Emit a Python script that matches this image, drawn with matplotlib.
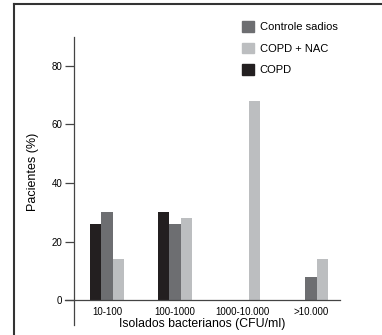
import numpy as np
import matplotlib
matplotlib.use('Agg')
import matplotlib.pyplot as plt
from matplotlib.lines import Line2D
from matplotlib.patches import Patch

plt.rcParams['font.family'] = ['Liberation Sans', 'DejaVu Sans']

categories = ['10-100', '100-1000', '1000-10.000', '>10.000']
copd = [26, 30, 0, 0]
controle = [30, 26, 0, 8]
copd_nac = [14, 28, 68, 14]
yticks = [0, 20, 40, 60, 80]

c_copd = '#231f20'
c_ctrl = '#6d6e71'
c_nac = '#bcbec0'

fig = plt.figure(figsize=(3.82, 3.35), dpi=100)
ax = fig.add_axes([65/382, 10/335, 275/382, 288/335])

x = np.arange(len(categories))
w = 0.17
ax.bar(x - w, copd, w, color=c_copd)
ax.bar(x, controle, w, color=c_ctrl)
ax.bar(x + w, copd_nac, w, color=c_nac)

ax.set_xlim(-0.62, 3.43)
ax.set_ylim(-8.5, 89.8)

for s in ['top', 'right']:
    ax.spines[s].set_visible(False)
ax.spines['left'].set_position(('data', -0.485))
ax.spines['bottom'].set_position(('data', 0))
for s in ['left', 'bottom']:
    ax.spines[s].set_color('#444444')
    ax.spines[s].set_linewidth(0.9)

ax.set_yticks(yticks)
ax.tick_params(axis='y', length=6.5, width=0.9, color='#444444', labelsize=7, pad=2)
ax.set_xticks(x)
ax.set_xticklabels(categories)
ax.tick_params(axis='x', length=0, labelsize=7, pad=5)

ax.set_xlabel('Isolados bacterianos (CFU/ml)', fontsize=8.8, labelpad=1)
ax.set_ylabel('Pacientes (%)', fontsize=9)
ax.yaxis.set_label_coords(-0.095, 0.53)

handles = [Patch(color=c_ctrl), Patch(color=c_nac), Patch(color=c_copd)]
labels = ['Controle sadios', 'COPD + NAC', 'COPD']
fig.legend(handles, labels, loc='upper left', bbox_to_anchor=(232/382, 1 - 11/335),
           frameon=False, fontsize=8, handlelength=1.1, handleheight=1.1,
           handletextpad=0.5, labelspacing=0.95)

# moldura da figura original
fig.add_artist(Line2D([14/382, 14/382], [0, 1 - 4/335], color='#333333', lw=1.5))
fig.add_artist(Line2D([14/382, 1], [1 - 4/335, 1 - 4/335], color='#333333', lw=1.5))

fig.savefig('out.png', dpi=100)
